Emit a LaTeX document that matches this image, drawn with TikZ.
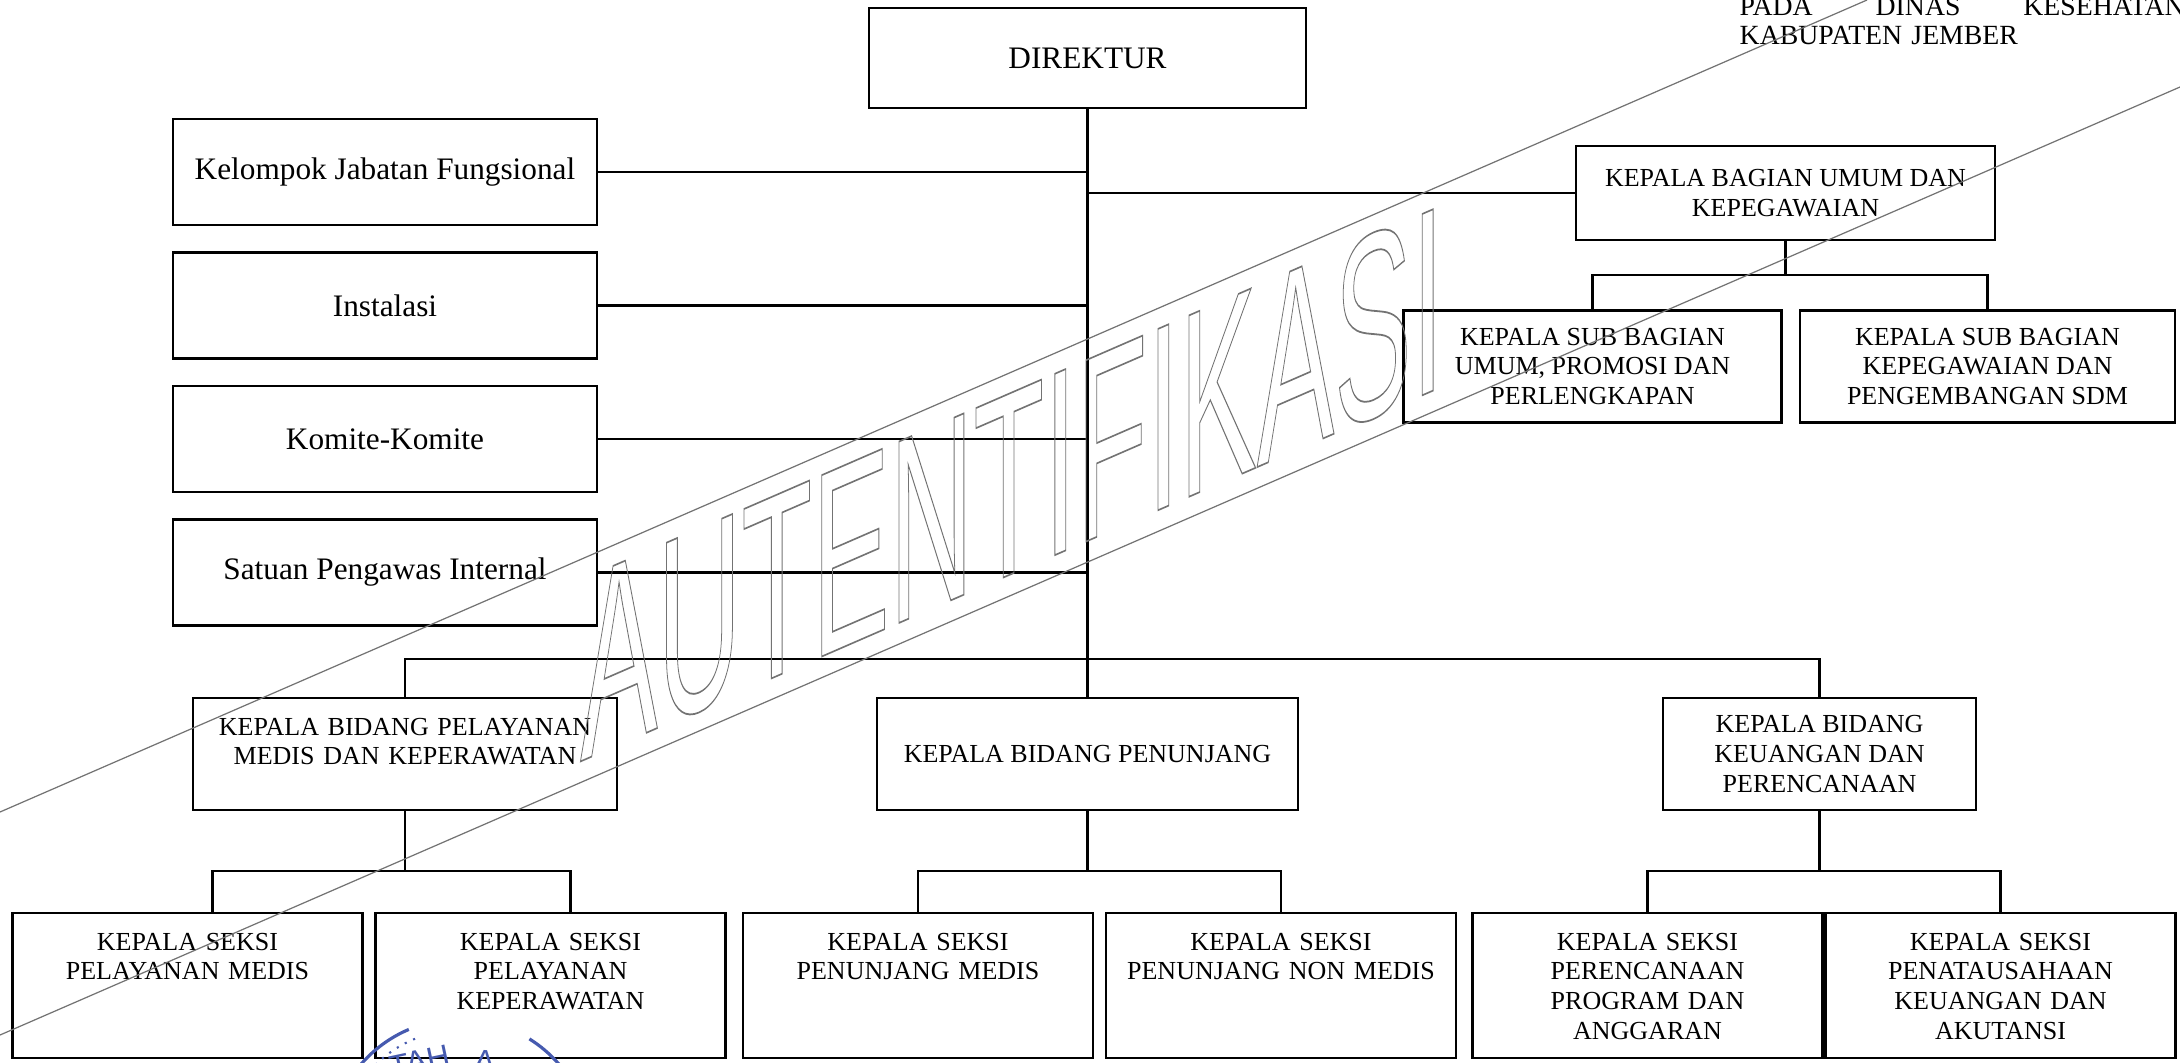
\documentclass[tikz,border=0pt]{standalone}
\usepackage{fontspec}
\setmainfont{Liberation Serif}
\newfontfamily\wmfont{Liberation Sans}
\usetikzlibrary{positioning}
\definecolor{stempel}{RGB}{70,90,175}

\begin{document}
\begin{tikzpicture}[node distance=1.335cm, on grid,
        jabatan/.style={draw, line width=0.7pt, align=center, inner sep=0pt,
            font=\fontsize{7.4}{8.5}\selectfont},
        fungsi/.style={jabatan, minimum width=4.24cm, minimum height=1.06cm,
            font=\fontsize{8.9}{10}\selectfont},
        bidang/.style={jabatan, minimum height=1.12cm},
        seksi/.style={jabatan, text width=3.5cm, text height=0.37cm, text depth=1.08cm},
        lampiran/.style={anchor=base west, inner sep=0pt, text width=4.45cm, align=left,
            font=\fontsize{7.9}{8.4}\selectfont},
        garis/.style={line width=0.6pt},
        watermark/.style={black!55, line width=0.35pt}]
        \useasboundingbox (0,0) rectangle (21.8,-10.62);

        % header text, cut at the top edge
        \node[lampiran] (lampiran) at (17.39,-0.15) {PADA\hfill DINAS\hfill KESEHATAN\\KABUPATEN JEMBER};

        \node[jabatan, minimum width=4.37cm, minimum height=1cm, font=\fontsize{8.9}{10}\selectfont] (dir) at (10.875,-0.58) {DIREKTUR};

        \node[fungsi] (kjf) [below left=1.14cm and 7.025cm of dir] {Kelompok Jabatan Fungsional};
        \node[fungsi] (inst) [below=of kjf] {Instalasi};
        \node[fungsi] (komite) [below=of inst] {Komite-Komite};
        \node[fungsi] (spi) [below=of komite] {Satuan Pengawas Internal};

        \node[jabatan, minimum width=4.19cm, minimum height=0.94cm] (kbu) [below right=1.35cm and 6.98cm of dir] {KEPALA BAGIAN UMUM DAN\\KEPEGAWAIAN};
        \node[jabatan, minimum width=3.78cm, minimum height=1.12cm] (subum) [below left=1.735cm and 1.93cm of kbu] {KEPALA SUB BAGIAN\\UMUM, PROMOSI DAN\\PERLENGKAPAN};
        \node[jabatan, minimum width=3.75cm, minimum height=1.12cm] (subpeg) [right=3.95cm of subum] {KEPALA SUB BAGIAN\\KEPEGAWAIAN DAN\\PENGEMBANGAN SDM};

        \node[bidang, minimum width=4.21cm] (kbp) [below=6.96cm of dir] {KEPALA BIDANG PENUNJANG};
        \node[bidang, text width=4.24cm, text height=0.37cm, text depth=0.75cm] (kbpm) [left=6.825cm of kbp] {KEPALA BIDANG PELAYANAN\\MEDIS DAN KEPERAWATAN};
        \node[bidang, minimum width=3.13cm] (kbkp) [right=7.32cm of kbp] {KEPALA BIDANG\\KEUANGAN DAN\\PERENCANAAN};

        \node[seksi] (kspm) [below left=2.315cm and 2.175cm of kbpm] {KEPALA SEKSI\\PELAYANAN MEDIS};
        \node[seksi] (kspk) [right=3.63cm of kspm] {KEPALA SEKSI\\PELAYANAN\\KEPERAWATAN};
        \node[seksi] (kspnm) [below left=2.315cm and 1.695cm of kbp] {KEPALA SEKSI\\PENUNJANG MEDIS};
        \node[seksi] (kspnnm) [right=3.63cm of kspnm] {KEPALA SEKSI\\PENUNJANG NON MEDIS};
        \node[seksi] (kspa) [below left=2.315cm and 1.72cm of kbkp] {KEPALA SEKSI\\PERENCANAAN\\PROGRAM DAN\\ANGGARAN};
        \node[seksi] (kspka) [right=3.53cm of kspa] {KEPALA SEKSI\\PENATAUSAHAAN\\KEUANGAN DAN\\AKUTANSI};

        \path[garis]
        (dir) edge (kbp)
        (kjf) edge (kjf -| dir)
        (inst) edge (inst -| dir)
        (komite) edge (komite -| dir)
        (spi) edge (spi -| dir)
        (kbu) edge (kbu -| dir);

        \draw[garis] (kbu.south) -- ++(0,-0.34) coordinate (kbuj);
        \draw[garis] (subum.north) |- (kbuj) -| (subpeg.north);

        \draw[garis] (kbpm.north) -- ++(0,0.38) -| (kbkp.north);

        \draw[garis] (kbpm.south) -- ++(0,-0.6) coordinate (pmj);
        \draw[garis] ([xshift=2.5mm]kspm.north) |- (pmj) -| ([xshift=2mm]kspk.north);
        \draw[garis] (kbp.south) -- ++(0,-0.6) coordinate (pnj);
        \draw[garis] (kspnm.north) |- (pnj) -| (kspnnm.north);
        \draw[garis] (kbkp.south) -- ++(0,-0.6) coordinate (kpj);
        \draw[garis] (kspa.north) |- (kpj) -| (kspka.north);

        % authentication stamp over the chart
        \draw[watermark] (0,-8.12) -- (18.67,0);
        \draw[watermark] (0,-10.35) -- (21.8,-0.87);
        \node[black!55, inner sep=0pt, yslant=0.435, xscale=0.44, font=\wmfont\fontsize{75}{75}\selectfont] (autentifikasi) at (10.12,-4.83)
            {\special{pdf:literal direct 1 Tr 0.5 w}AUTENTIFIKASI\special{pdf:literal direct 0 Tr}};

        % top of the round seal, cut at the bottom edge
        \coordinate (segel) at (4.6,-11.5);
        \draw[stempel, line width=0.9pt] (segel) ++(113:1.31) arc[start angle=113, end angle=140, radius=1.31];
        \draw[stempel, line width=0.9pt] (segel) ++(41:1.31) arc[start angle=41, end angle=58, radius=1.31];
        \draw[stempel, line width=0.6pt, dotted] (segel) ++(112:1.2) arc[start angle=112, end angle=138, radius=1.2];
        \node[stempel, anchor=base, rotate=12, inner sep=0pt, font=\wmfont\fontsize{9}{9}\selectfont] (tah) at (4.22,-10.72) {TAH};
        \node[stempel, anchor=base, rotate=-4, inner sep=0pt, font=\wmfont\fontsize{9}{9}\selectfont] (taha) at (4.84,-10.72) {A};
    \end{tikzpicture}
\end{document}
